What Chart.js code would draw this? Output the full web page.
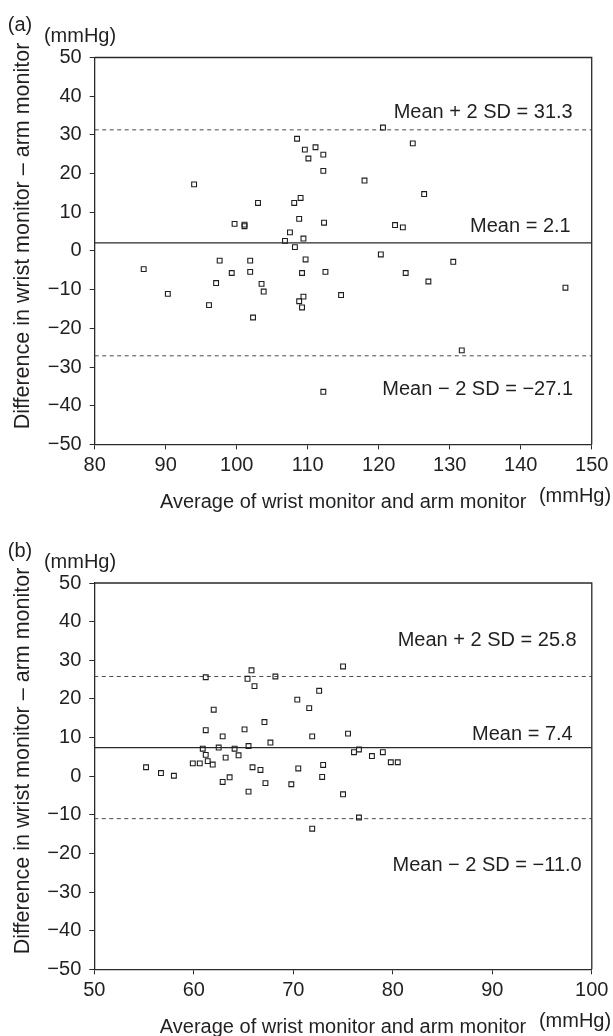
<!DOCTYPE html>
<html>
<head>
<meta charset="utf-8">
<script src="https://cdn.jsdelivr.net/npm/chart.js@4.4.1/dist/chart.umd.min.js"></script>
<style>
html,body{margin:0;padding:0;background:#fff;}
#wrap{position:relative;width:613px;height:1036px;overflow:hidden;}
canvas{position:absolute;left:0;}
</style>
</head>
<body>
<div id="wrap">
<canvas id="ca" width="613" height="525" style="top:0"></canvas>
<canvas id="cb" width="613" height="511" style="top:525px"></canvas>
</div>
<script>
// ---------- DATA ----------
// Panel (a)
const aX = [86.9, 90.3, 94.0, 96.1, 97.1, 97.6, 99.3, 99.7, 101.1, 101.1, 101.9, 101.9, 102.3, 103.0, 103.5, 103.8,
  106.8, 107.5, 108.1, 108.2, 108.5, 108.8, 108.8, 109.0, 109.2, 109.2, 109.4, 109.4, 109.6, 109.7, 110.1, 111.1,
  112.2, 112.2, 112.3, 112.5, 114.7, 112.2, 120.6, 124.8, 118.0, 126.4, 122.3, 123.4, 120.3, 130.5, 123.8, 127.0,
  146.3, 131.7];
const aY = [-4.7, -11.1, 17.2, -14.0, -8.3, -2.5, -5.7, 7.0, 6.8, 6.4, -2.5, -5.4, -17.2, 12.4, -8.5, -10.5,
  2.6, 4.8, 12.4, 1.0, 29.0, 8.3, -13.0, 13.7, -5.7, -14.6, 3.2, -11.8, 26.2, -2.2, 23.9, 26.8,
  24.9, 20.7, 7.3, -5.4, -11.4, -36.4, 31.9, 27.8, 18.2, 14.7, 6.7, 6.1, -0.9, -2.8, -5.7, -7.9,
  -9.5, -25.7];
const aLimits = [31.3, 2.1, -27.1];
const aLimitLabels = ['Mean + 2 SD = 31.3', 'Mean = 2.1', 'Mean \u2212 2 SD = \u221227.1'];
const aXTicks = [80, 90, 100, 110, 120, 130, 140, 150];

// Panel (b)
const bX = [55.2, 56.7, 58.0, 59.9, 60.6, 60.9, 61.2, 61.2, 61.2, 61.4, 61.9, 62.0, 62.5, 62.9, 62.9, 63.2,
  63.6, 64.1, 64.5, 65.1, 65.4, 65.5, 65.5, 65.8, 65.9, 66.1, 66.7, 67.1, 67.2, 67.7, 68.2, 70.4,
  71.6, 72.6, 75.0, 71.9, 75.5, 70.5, 69.8, 73.0, 72.9, 75.0, 76.1, 76.6, 77.9, 79.0, 79.8, 80.5,
  76.6, 71.9];
const bY = [2.3, 0.8, 0.1, 3.3, 3.3, 7.1, 25.6, 11.9, 5.5, 3.9, 3.0, 17.2, 7.4, 10.3, -1.5, 4.8,
  -0.3, 7.1, 5.4, 12.1, 25.2, 7.8, -4.0, 27.4, 2.3, 23.3, 1.6, 14.0, -1.8, 8.7, 25.8, 19.8,
  17.6, 22.1, 28.4, 10.3, 11.0, 2.0, -2.1, 2.9, -0.2, -4.7, 6.2, 6.9, 5.2, 6.2, 3.6, 3.6,
  -10.7, -13.6];
const bLimits = [25.8, 7.4, -11.0];
const bLimitLabels = ['Mean + 2 SD = 25.8', 'Mean = 7.4', 'Mean \u2212 2 SD = \u221211.0'];
const bXTicks = [50, 60, 70, 80, 90, 100];

const yTicks = [-50, -40, -30, -20, -10, 0, 10, 20, 30, 40, 50];
const xTitle = 'Average of wrist monitor and arm monitor';
const yTitle = 'Difference in wrist monitor \u2013 arm monitor';
const unitText = '(mmHg)';

// ---------- STYLE ----------
const FONT = '"Liberation Sans", Arial, Helvetica, sans-serif';
const INK = '#231f20';
const AXIS = '#2a2a2a';

const decor = {
  id: 'decor',
  afterDraw(chart, args, o) {
    const {ctx, chartArea: {left, right, top, bottom}, scales: {y}} = chart;
    ctx.save();
    ctx.strokeStyle = AXIS;
    ctx.lineWidth = 1.3;
    ctx.beginPath();
    ctx.moveTo(left, top);
    ctx.lineTo(right, top);
    ctx.lineTo(right, bottom);
    ctx.stroke();

    ctx.fillStyle = INK;
    ctx.font = '20px ' + FONT;
    ctx.textBaseline = 'middle';
    ctx.textAlign = 'center';
    ctx.fillText(o.tag, 20, top - 32);
    ctx.fillText(unitText, 80, top - 21);
    ctx.fillText(unitText, 575, bottom + 52);
    ctx.fillText(xTitle, (left + right) / 2, bottom + 58);

    ctx.save();
    ctx.translate(23, o.yTitleY);
    ctx.rotate(-Math.PI / 2);
    ctx.font = '21.5px ' + FONT;
    ctx.fillText(yTitle, 0, 0);
    ctx.restore();

    ctx.textAlign = 'right';
    o.labels.forEach((t, i) => {
      ctx.fillText(t, o.labelRight[i], y.getPixelForValue(o.values[i]) + o.labelDy[i]);
    });
    ctx.restore();
  }
};

function fmt(v) { return v < 0 ? '\u2212' + Math.abs(v) : String(v); }

function makeChart(id, xs, ys, limits, labels, xTicks, cfg) {
  const xMin = xTicks[0], xMax = xTicks[xTicks.length - 1];
  const pts = xs.map((x, i) => ({x: x, y: ys[i]}));
  const lineDs = limits.map((v, i) => ({
    type: 'line',
    data: [{x: xMin, y: v}, {x: xMax, y: v}],
    borderColor: i === 1 ? '#2a2a2a' : '#4a4a4a',
    borderWidth: i === 1 ? 1.3 : 1,
    borderDash: i === 1 ? [] : [4, 3.5],
    pointRadius: 0,
    fill: false,
    order: 2
  }));
  const canvas = document.getElementById(id);
  return new Chart(canvas, {
    type: 'scatter',
    data: {
      datasets: [{
        data: pts,
        pointStyle: 'rect',
        radius: 3.4,
        borderWidth: 1.1,
        borderColor: '#1e1e1e',
        backgroundColor: 'rgba(255,255,255,0)',
        order: 1
      }].concat(lineDs)
    },
    options: {
      responsive: false,
      animation: false,
      events: [],
      layout: {padding: {top: cfg.top, right: 613 - cfg.right, left: 0, bottom: 0}},
      plugins: {
        legend: {display: false},
        tooltip: {enabled: false},
        decor: cfg.decor
      },
      scales: {
        x: {
          type: 'linear',
          min: xMin, max: xMax,
          afterBuildTicks: s => { s.ticks = xTicks.map(v => ({value: v})); },
          afterFit: s => { s.height = canvas.height - cfg.bottom; },
          grid: {display: true, drawOnChartArea: false, drawTicks: true, tickLength: 5, color: AXIS, lineWidth: 1},
          border: {display: true, color: AXIS, width: 1.3},
          ticks: {color: INK, font: {family: FONT, size: 20}, padding: 4, maxRotation: 0, autoSkip: false,
            callback: v => fmt(v)}
        },
        y: {
          type: 'linear',
          min: -50, max: 50,
          afterBuildTicks: s => { s.ticks = yTicks.map(v => ({value: v})); },
          afterFit: s => { s.width = cfg.left; },
          grid: {display: true, drawOnChartArea: false, drawTicks: true, tickLength: 5, color: AXIS, lineWidth: 1},
          border: {display: true, color: AXIS, width: 1.3},
          ticks: {color: INK, font: {family: FONT, size: 20}, padding: 8, autoSkip: false,
            callback: v => fmt(v)}
        }
      }
    },
    plugins: [decor]
  });
}

makeChart('ca', aX, aY, aLimits, aLimitLabels, aXTicks, {
  left: 94.7, right: 591.7, top: 57.5, bottom: 444.4,
  decor: {tag: '(a)', yTitleY: 236, values: aLimits, labels: aLimitLabels,
    labelRight: [572.7, 570.7, 573], labelDy: [-17.2, -16.8, 33.2]}
});
makeChart('cb', bX, bY, bLimits, bLimitLabels, bXTicks, {
  left: 94.3, right: 591.8, top: 58, bottom: 444.3,
  decor: {tag: '(b)', yTitleY: 236, values: bLimits, labels: bLimitLabels,
    labelRight: [576.7, 572.7, 581.7], labelDy: [-36.5, -12.6, 47.1]}
});
</script>
</body>
</html>
